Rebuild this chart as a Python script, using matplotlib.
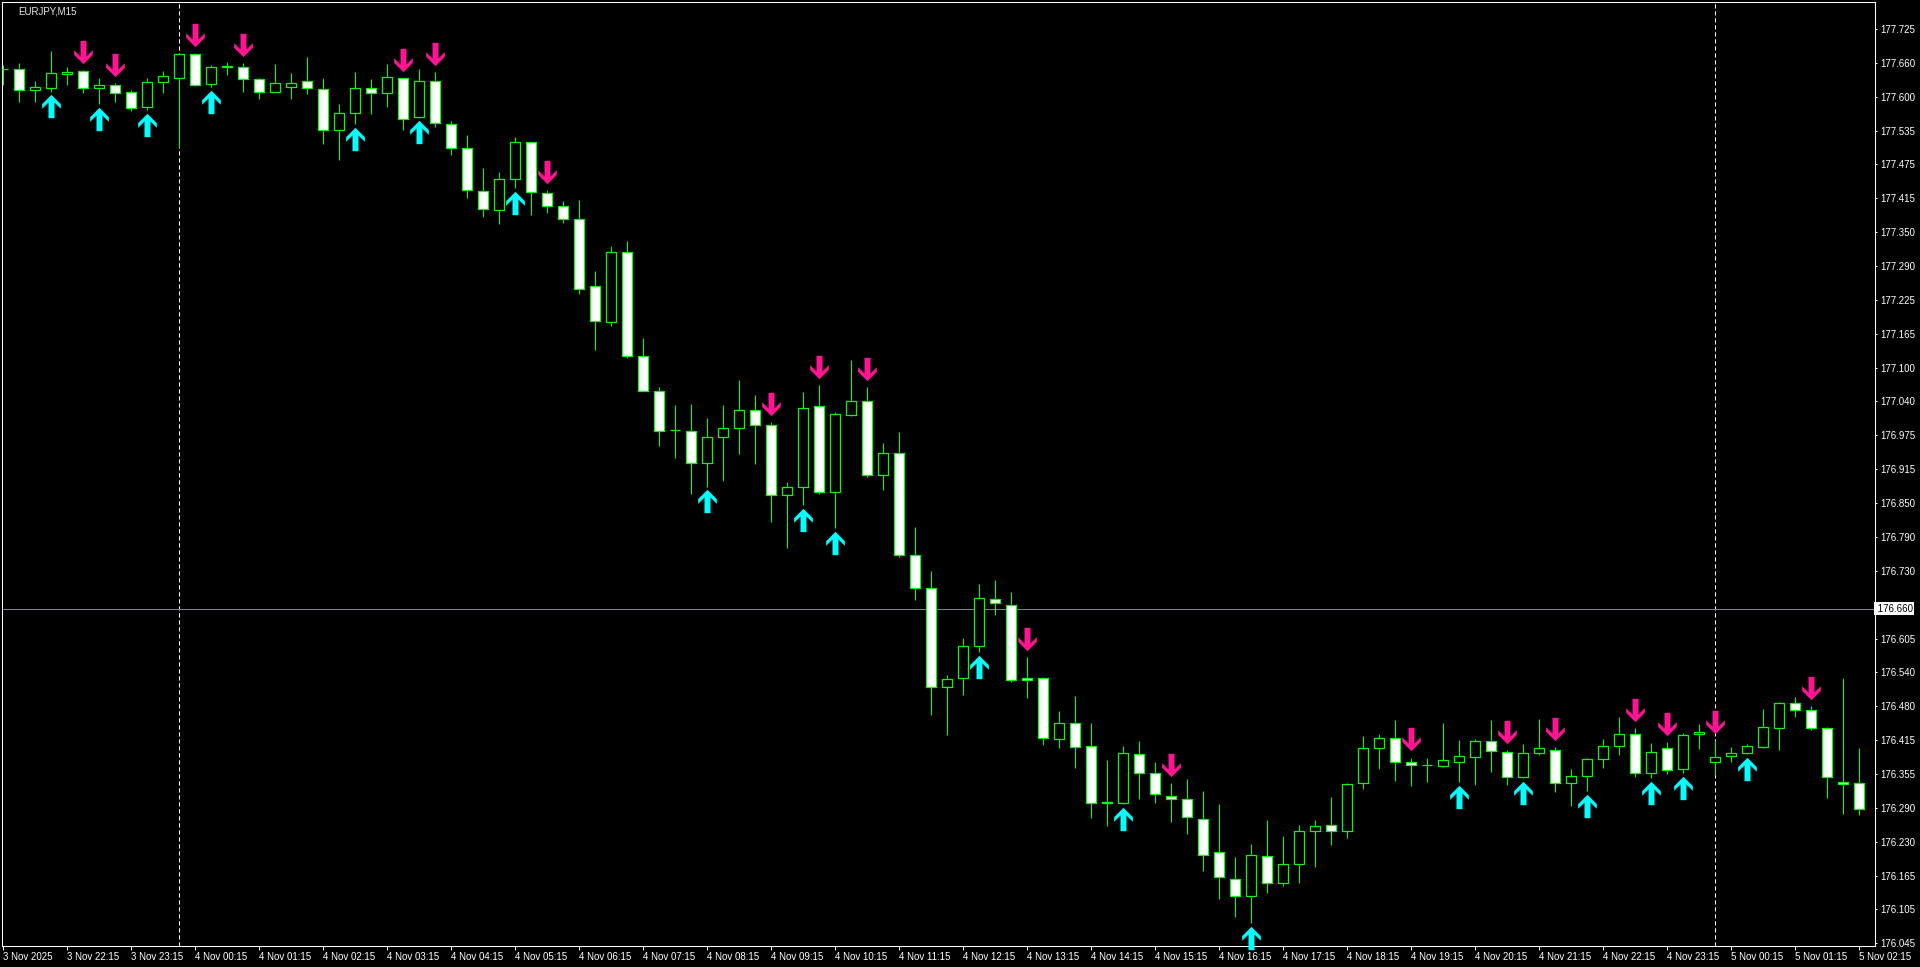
import matplotlib
matplotlib.use("Agg")
import matplotlib.pyplot as plt
import numpy as np
from matplotlib.path import Path
from matplotlib import transforms

symbol = "EURJPY,M15"

opens = [177.651, 177.651, 177.612, 177.617, 177.642, 177.647, 177.617, 177.622, 177.609, 177.582,
         177.627, 177.634, 177.679, 177.623, 177.655, 177.656, 177.633, 177.610, 177.619, 177.629,
         177.614, 177.539, 177.570, 177.616, 177.607, 177.634, 177.563, 177.629, 177.550, 177.506,
         177.428, 177.392, 177.449, 177.517, 177.423, 177.399, 177.375, 177.252, 177.187, 177.316,
         177.125, 177.059, 176.988, 176.987, 176.927, 176.976, 176.991, 177.024, 176.997, 176.868,
         176.884, 177.033, 176.875, 177.015, 177.042, 176.906, 176.945, 176.758, 176.697, 176.515,
         176.533, 176.592, 176.678, 176.666, 176.533, 176.533, 176.421, 176.449, 176.408, 176.305,
         176.302, 176.392, 176.357, 176.316, 176.311, 176.274, 176.212, 176.164, 176.132, 176.206,
         176.156, 176.190, 176.252, 176.263, 176.252, 176.340, 176.403, 176.423, 176.379, 176.372,
         176.371, 176.379, 176.387, 176.416, 176.397, 176.351, 176.395, 176.401, 176.340, 176.353,
         176.384, 176.408, 176.429, 176.357, 176.403, 176.366, 176.429, 176.379, 176.390, 176.394,
         176.406, 176.441, 176.487, 176.474, 176.441, 176.342, 176.340]
highs = [177.659, 177.662, 177.629, 177.685, 177.656, 177.650, 177.634, 177.625, 177.613, 177.634,
         177.648, 177.680, 177.681, 177.658, 177.664, 177.662, 177.634, 177.661, 177.644, 177.673,
         177.634, 177.587, 177.646, 177.633, 177.661, 177.635, 177.651, 177.646, 177.556, 177.530,
         177.470, 177.462, 177.526, 177.518, 177.429, 177.408, 177.411, 177.280, 177.326, 177.335,
         177.157, 177.067, 177.034, 177.036, 177.010, 177.034, 177.080, 177.052, 177.002, 176.892,
         177.058, 177.071, 177.021, 177.117, 177.067, 176.965, 176.984, 176.810, 176.729, 176.538,
         176.606, 176.705, 176.712, 176.690, 176.571, 176.534, 176.471, 176.499, 176.449, 176.381,
         176.407, 176.416, 176.379, 176.339, 176.346, 176.324, 176.300, 176.203, 176.228, 176.271,
         176.242, 176.262, 176.271, 176.313, 176.339, 176.425, 176.430, 176.455, 176.386, 176.385,
         176.449, 176.418, 176.420, 176.455, 176.400, 176.412, 176.458, 176.405, 176.365, 176.385,
         176.420, 176.460, 176.441, 176.413, 176.414, 176.432, 176.447, 176.418, 176.405, 176.411,
         176.475, 176.488, 176.497, 176.481, 176.442, 176.532, 176.403]
lows = [177.622, 177.590, 177.591, 177.610, 177.622, 177.608, 177.587, 177.591, 177.575, 177.576,
        177.608, 177.506, 177.621, 177.618, 177.641, 177.610, 177.596, 177.609, 177.596, 177.606,
        177.514, 177.484, 177.550, 177.569, 177.582, 177.540, 177.562, 177.544, 177.494, 177.415,
        177.380, 177.367, 177.433, 177.384, 177.387, 177.369, 177.238, 177.135, 177.179, 177.120,
        177.059, 176.958, 176.937, 176.871, 176.884, 176.895, 176.944, 176.925, 176.819, 176.772,
        176.850, 176.871, 176.808, 177.014, 176.902, 176.878, 176.754, 176.675, 176.465, 176.428,
        176.501, 176.580, 176.648, 176.525, 176.496, 176.409, 176.404, 176.367, 176.275, 176.260,
        176.301, 176.310, 176.302, 176.268, 176.245, 176.178, 176.126, 176.093, 176.082, 176.137,
        176.150, 176.156, 176.185, 176.225, 176.238, 176.328, 176.365, 176.343, 176.334, 176.341,
        176.368, 176.341, 176.336, 176.360, 176.336, 176.349, 176.391, 176.323, 176.297, 176.325,
        176.367, 176.391, 176.351, 176.349, 176.356, 176.358, 176.402, 176.354, 176.378, 176.393,
        176.403, 176.401, 176.460, 176.436, 176.312, 176.283, 176.281]
closes = [177.652, 177.612, 177.618, 177.645, 177.646, 177.616, 177.622, 177.607, 177.579, 177.627,
          177.638, 177.679, 177.622, 177.655, 177.657, 177.633, 177.610, 177.625, 177.625, 177.616,
          177.539, 177.570, 177.616, 177.607, 177.636, 177.560, 177.629, 177.552, 177.506, 177.429,
          177.394, 177.449, 177.517, 177.425, 177.399, 177.375, 177.248, 177.189, 177.315, 177.124,
          177.060, 176.987, 176.989, 176.927, 176.976, 176.991, 177.024, 176.997, 176.868, 176.884,
          177.028, 176.875, 177.017, 177.042, 176.906, 176.945, 176.758, 176.697, 176.515, 176.531,
          176.592, 176.679, 176.671, 176.528, 176.528, 176.423, 176.449, 176.406, 176.303, 176.302,
          176.394, 176.357, 176.320, 176.311, 176.277, 176.208, 176.167, 176.132, 176.208, 176.156,
          176.190, 176.252, 176.260, 176.252, 176.338, 176.403, 176.423, 176.379, 176.372, 176.373,
          176.381, 176.390, 176.416, 176.399, 176.351, 176.395, 176.403, 176.340, 176.353, 176.383,
          176.408, 176.429, 176.357, 176.397, 176.364, 176.427, 176.434, 176.388, 176.394, 176.408,
          176.443, 176.487, 176.474, 176.441, 176.351, 176.338, 176.291]

# bar indexes where the indicator printed an arrow
sell_signals = [5, 7, 12, 15, 25, 27, 34, 48, 51, 54, 64, 73, 88, 94, 97, 102, 104, 107, 113]
buy_signals = [3, 6, 9, 13, 22, 26, 32, 44, 50, 52, 61, 70, 78, 91, 95, 99, 103, 105, 109]

day_breaks = [11, 107]
bid = 176.660

price_labels = ["177.725", "177.660", "177.600", "177.535", "177.475", "177.415", "177.350",
                "177.290", "177.225", "177.165", "177.100", "177.040", "176.975", "176.915",
                "176.850", "176.790", "176.730", "", "176.605", "176.540", "176.480", "176.415",
                "176.355", "176.290", "176.230", "176.165", "176.105", "176.045"]
time_labels = ["3 Nov 2025", "3 Nov 22:15", "3 Nov 23:15",
               "4 Nov 00:15", "4 Nov 01:15", "4 Nov 02:15", "4 Nov 03:15", "4 Nov 04:15",
               "4 Nov 05:15", "4 Nov 06:15", "4 Nov 07:15", "4 Nov 08:15", "4 Nov 09:15",
               "4 Nov 10:15", "4 Nov 11:15", "4 Nov 12:15", "4 Nov 13:15", "4 Nov 14:15",
               "4 Nov 15:15", "4 Nov 16:15", "4 Nov 17:15", "4 Nov 18:15", "4 Nov 19:15",
               "4 Nov 20:15", "4 Nov 21:15", "4 Nov 22:15", "4 Nov 23:15",
               "5 Nov 00:15", "5 Nov 01:15", "5 Nov 02:15"]

GREEN = "#00ff00"
FONT = "Liberation Sans"


def arrow_path(up=True):
    v = [(0, 11.67), (9.33, 2.33), (9.33, -2.3), (3.0, 4.0), (3.0, -11.67),
         (-3.0, -11.67), (-3.0, 4.0), (-9.33, -2.3), (-9.33, 2.33), (0, 11.67)]
    if not up:
        v = [(x, -y) for x, y in v]
    codes = [Path.MOVETO] + [Path.LINETO] * (len(v) - 2) + [Path.CLOSEPOLY]
    return Path(v, codes)


def main():
    fig = plt.figure(figsize=(19.2, 9.67), dpi=100, facecolor="black")
    ax = fig.add_axes([2 / 1920, 21 / 967, 1872.7 / 1920, 943.7 / 967], facecolor="black")

    o = np.array(opens)
    h = np.array(highs)
    l = np.array(lows)
    c = np.array(closes)
    x = np.arange(len(o))
    bull = c >= o

    for d in day_breaks:
        ax.axvline(d, color="white", lw=0.72, dashes=(4.2, 2.8), zorder=1)
    ax.axhline(bid, color="#778899", lw=0.72, zorder=1)

    ax.vlines(x, l, h, colors=GREEN, lw=0.72, zorder=2)
    ax.bar(x, c - o, bottom=o, width=0.6,
           color=np.where(bull, "black", "white"), edgecolor=GREEN,
           linewidth=0.9, zorder=3)

    # arrows sit a few pixels off the candle extremes
    down_tr = transforms.offset_copy(ax.transData, fig=fig, y=18.2, units="dots")
    up_tr = transforms.offset_copy(ax.transData, fig=fig, y=-14.7, units="dots")
    ax.plot(sell_signals, h[sell_signals], ls="none", marker=arrow_path(False),
            markersize=16.8, color="#ff1493", mew=0, transform=down_tr, zorder=4,
            clip_on=False)
    ax.plot(buy_signals, l[buy_signals], ls="none", marker=arrow_path(True),
            markersize=16.8, color="#00ffff", mew=0, transform=up_tr, zorder=4,
            clip_on=False)

    ax.set_xlim(-0.0625, 116.98)
    ax.set_ylim(176.040, 177.774)

    for s in ax.spines.values():
        s.set_color("white")
        s.set_linewidth(0.75)

    ax.yaxis.tick_right()
    ax.set_yticks(np.linspace(177.725, 176.045, len(price_labels)), labels=price_labels)
    ax.tick_params(axis="y", colors="white", length=1.5, width=0.75, pad=2.6,
                   labelsize=7)
    ax.set_xticks(np.arange(0, len(o), 4), labels=time_labels)
    ax.tick_params(axis="x", colors="white", length=3, width=0.75, pad=1.3,
                   labelsize=7)
    for lab in ax.get_xticklabels() + ax.get_yticklabels():
        lab.set_fontfamily(FONT)
    for lab in ax.get_xticklabels():
        lab.set_horizontalalignment("left")

    ax.text(1.0, bid, " 176.660", transform=ax.get_yaxis_transform(),
            ha="left", va="center", color="black", fontsize=7, family=FONT,
            bbox=dict(boxstyle="square,pad=0.12", fc="white", ec="none"),
            clip_on=False, zorder=6)

    fig.text(18 / 1920, 1 - 11 / 967, symbol, color="#e8e8e8", fontsize=7,
             family=FONT, ha="left", va="center")

    fig.savefig("out.png", dpi=100, facecolor="black")


if __name__ == "__main__":
    main()
